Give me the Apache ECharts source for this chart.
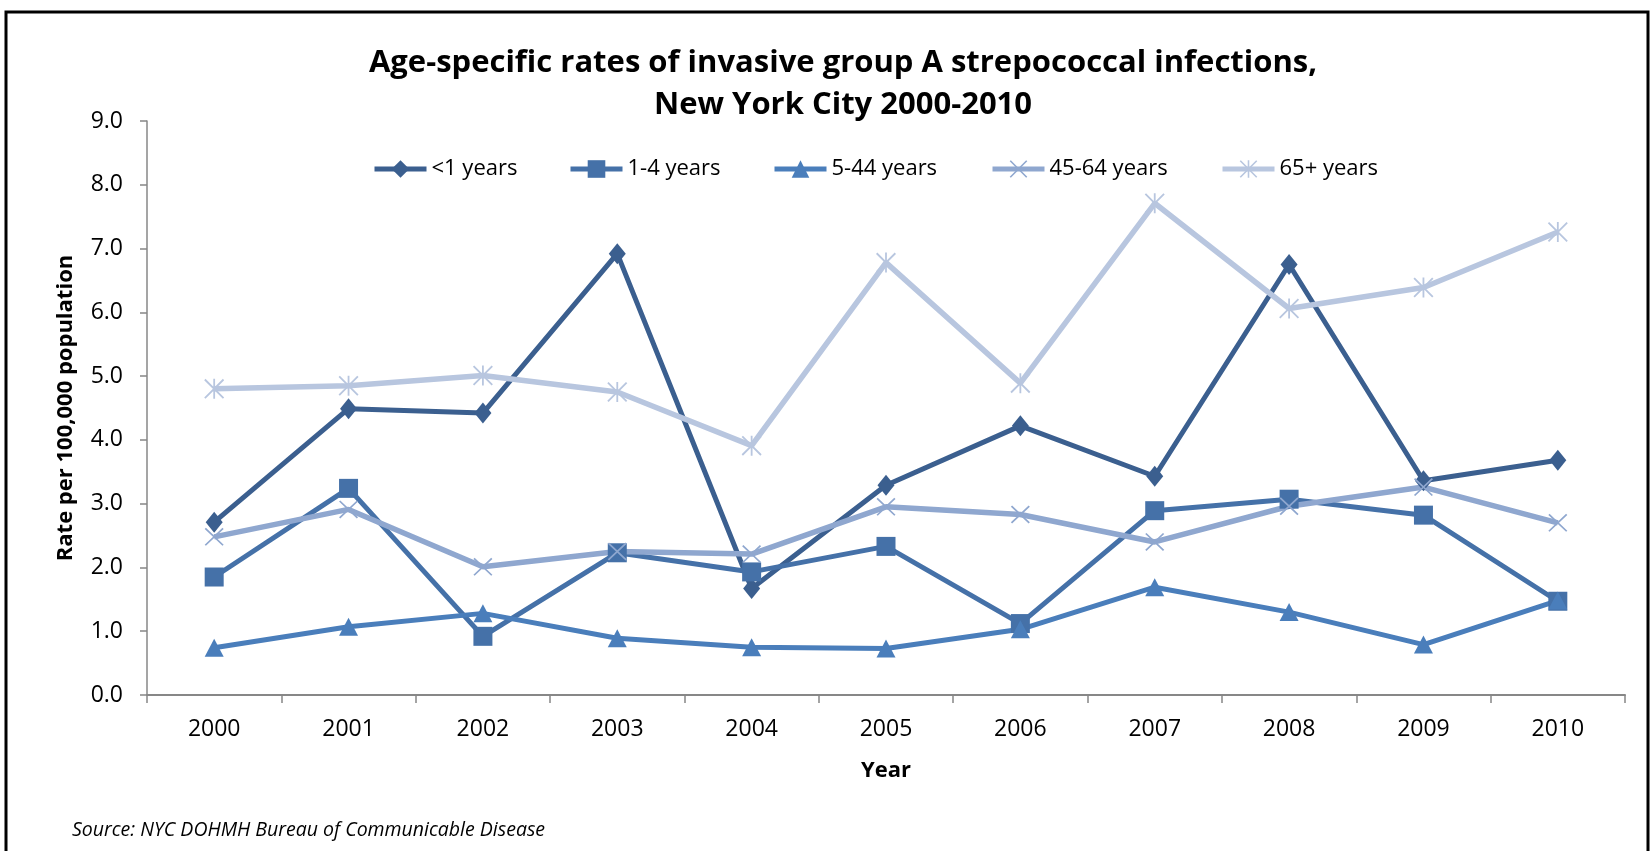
<!DOCTYPE html>
<html>
<head>
<meta charset="utf-8">
<script src="https://cdn.jsdelivr.net/npm/echarts@6/dist/echarts.min.js"></script>
<style>
  html, body { margin: 0; padding: 0; background: #fff; }
  #chart { width: 1650px; height: 851px; }
</style>
</head>
<body>
<div id="chart"></div>
<script>
// Rates per 100,000 population by age group, NYC 2000-2010
const years = ['2000', '2001', '2002', '2003', '2004', '2005', '2006', '2007', '2008', '2009', '2010'];
const seriesNames = ['<1 years', '1-4 years', '5-44 years', '45-64 years', '65+ years'];
const underOne      = [2.71, 4.49, 4.42, 6.92, 1.67, 3.29, 4.22, 3.43, 6.75, 3.36, 3.68];
const oneToFour     = [1.85, 3.24, 0.92, 2.23, 1.93, 2.33, 1.12, 2.89, 3.07, 2.82, 1.47];
const fiveTo44      = [0.74, 1.07, 1.28, 0.89, 0.75, 0.73, 1.03, 1.69, 1.30, 0.79, 1.48];
const fortyFiveTo64 = [2.48, 2.91, 2.01, 2.25, 2.21, 2.95, 2.83, 2.40, 2.96, 3.26, 2.70];
const sixtyFivePlus = [4.80, 4.85, 5.01, 4.75, 3.91, 6.78, 4.89, 7.71, 6.06, 6.39, 7.26];
const yMin = 0, yMax = 9, yStep = 1;

const FONT = '"Open Sans", "DejaVu Sans", sans-serif';

// thin-stroked marker shapes built as filled outlines
const X_PATH = 'path://M0,1.3L1.3,0L20,18.7L18.7,20Z M18.7,0L20,1.3L1.3,20L0,18.7Z';
const STAR_PATH = 'path://M0,1.3L1.3,0L20,18.7L18.7,20Z M18.7,0L20,1.3L1.3,20L0,18.7Z M9.1,0L10.9,0L10.9,20L9.1,20Z';

const styles = [
  { data: underOne,      color: '#3B5F8F', symbol: 'diamond',  size: [17, 21], width: 5 },
  { data: oneToFour,     color: '#4571A8', symbol: 'rect',     size: [19, 19], width: 5 },
  { data: fiveTo44,      color: '#4A7EBB', symbol: 'triangle', size: [19, 18], width: 5 },
  { data: fortyFiveTo64, color: '#8FA7CF', symbol: X_PATH,     size: [19, 18], width: 5.5 },
  { data: sixtyFivePlus, color: '#B8C6DF', symbol: STAR_PATH,  size: [20, 20], width: 5.5 }
];

// one legend block per series so each entry sits at its own horizontal slot
const legendLeft = [367, 563, 767, 985, 1215];

const chart = echarts.init(document.getElementById('chart'), null, { renderer: 'canvas' });

chart.setOption({
  animation: false,
  backgroundColor: '#ffffff',
  title: {
    text: 'Age-specific rates of invasive group A strepococcal infections,\nNew York City 2000-2010',
    left: 838,
    top: 37,
    textAlign: 'center',
    textStyle: { fontFamily: FONT, fontSize: 31, fontWeight: 'bold', color: '#000', lineHeight: 42 }
  },
  legend: seriesNames.map((name, i) => ({
    data: [name],
    left: legendLeft[i],
    top: 153,
    itemWidth: 52,
    itemHeight: 22,
    selectedMode: false,
    lineStyle: { width: 5 },
    textStyle: { fontFamily: FONT, fontSize: 22, color: '#000' }
  })),
  grid: { left: 147, right: 25, top: 121, bottom: 156 },
  xAxis: {
    type: 'category',
    data: years,
    boundaryGap: true,
    name: 'Year',
    nameLocation: 'middle',
    nameGap: 65,
    nameTextStyle: { fontFamily: FONT, fontSize: 22, fontWeight: 'bold', color: '#000' },
    axisLine: { lineStyle: { color: '#878787', width: 2 } },
    axisTick: { show: true, length: 8, lineStyle: { color: '#878787', width: 1.5 } },
    axisLabel: { margin: 23, fontFamily: FONT, fontSize: 23, color: '#000' },
    splitLine: { show: false }
  },
  yAxis: {
    type: 'value',
    min: yMin,
    max: yMax,
    interval: yStep,
    name: 'Rate per 100,000 population',
    nameLocation: 'middle',
    nameGap: 70,
    nameRotate: 90,
    nameTextStyle: { fontFamily: FONT, fontSize: 22, fontWeight: 'bold', color: '#000' },
    axisLine: { show: true, lineStyle: { color: '#878787', width: 1.5 } },
    axisTick: { show: true, length: 7, lineStyle: { color: '#878787', width: 1.5 } },
    axisLabel: { margin: 24, fontFamily: FONT, fontSize: 23, color: '#000', formatter: v => v.toFixed(1) },
    splitLine: { show: false }
  },
  series: styles.map((s, i) => ({
    name: seriesNames[i],
    type: 'line',
    data: s.data,
    symbol: s.symbol,
    symbolSize: s.size,
    showAllSymbol: true,
    lineStyle: { color: s.color, width: s.width },
    itemStyle: { color: s.color, borderWidth: 0 },
    emphasis: { disabled: true }
  })),
  graphic: [
    {
      type: 'rect',
      silent: true,
      shape: { x: 6, y: 12, width: 1642, height: 900 },
      style: { fill: 'none', stroke: '#000', lineWidth: 3 }
    },
    {
      type: 'text',
      silent: true,
      left: 72,
      top: 820,
      style: {
        text: 'Source: NYC DOHMH Bureau of Communicable Disease',
        fontFamily: FONT, fontSize: 19.5, fontStyle: 'italic', fill: '#000'
      }
    }
  ]
});
</script>
</body>
</html>
